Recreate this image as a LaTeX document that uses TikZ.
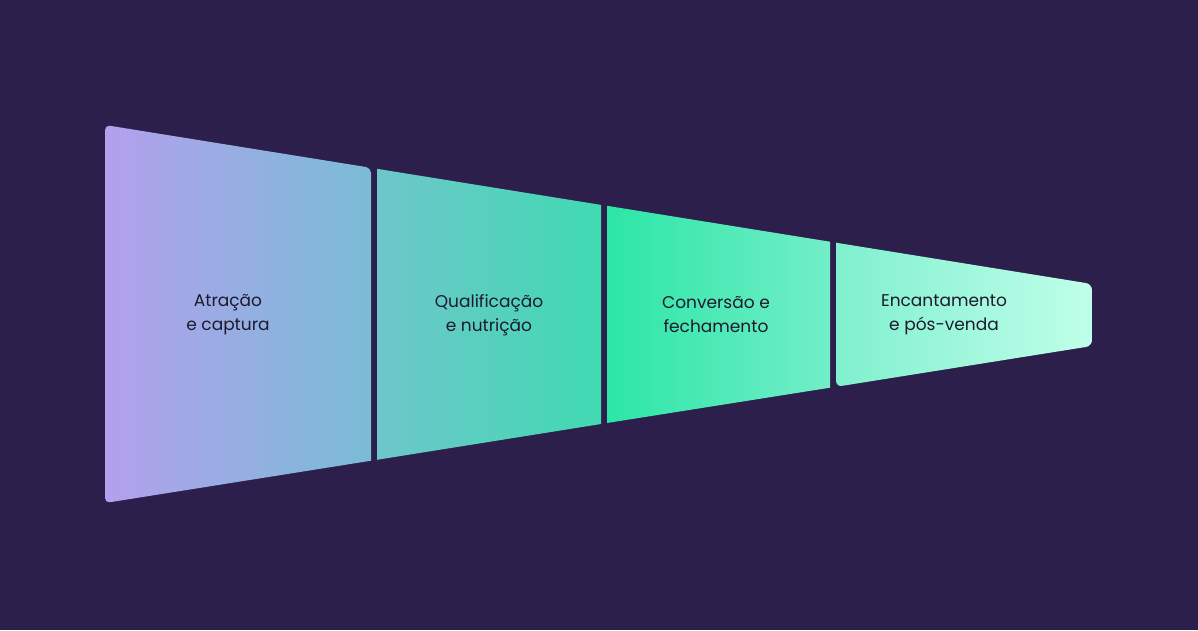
\documentclass[tikz,border=0pt]{standalone}
\usepackage{fontspec}
\setmainfont{Poppins}
\definecolor{bgpurple}{HTML}{2D1F4B}
\definecolor{lavender}{HTML}{B3A0EE}
\definecolor{steelteal}{HTML}{7ABCD6}
\definecolor{softteal}{HTML}{6EC6CA}
\definecolor{seagreen}{HTML}{40DAB2}
\definecolor{mintgreen}{HTML}{2CE6A6}
\definecolor{palemint}{HTML}{72EEC8}
\definecolor{lightmint}{HTML}{80F0CE}
\definecolor{icemint}{HTML}{C0FFEA}
\definecolor{textdark}{HTML}{1E1A2E}
\tikzset{stage/.style={text=textdark, align=center, font=\fontsize{17}{24}\selectfont}}
\begin{document}
\begin{tikzpicture}[x=1pt, y=-1pt]
\fill[bgpurple] (0,0) rectangle (1198,630);
\useasboundingbox (0,0) rectangle (1198,630);
\shade[left color=lavender, right color=steelteal, rounded corners=5pt]
  (105,125) -- (371,167.8) [sharp corners] -- (371,460.7) [rounded corners=5pt] -- (105,503) -- cycle;
\shade[left color=softteal, right color=seagreen]
  (377,168.8) -- (601,204.9) -- (601,424) -- (377,459.8) -- cycle;
\shade[left color=mintgreen, right color=palemint]
  (607,205.8) -- (830,241.7) -- (830,387.7) -- (607,423) -- cycle;
\shade[left color=lightmint, right color=icemint, rounded corners=6pt]
  (836,242.7) -- (1092,284) -- (1092,346) -- (836,386.8) [sharp corners] -- cycle;
\node[stage] (atracao) at (228,315) {Atração\\e captura};
\node[stage] (qualif) at (489,315) {Qualificação\\e nutrição};
\node[stage] (conversao) at (716,315) {Conversão e\\fechamento};
\node[stage] (encanto) at (944,315) {Encantamento\\e pós-venda};
\end{tikzpicture}
\end{document}
